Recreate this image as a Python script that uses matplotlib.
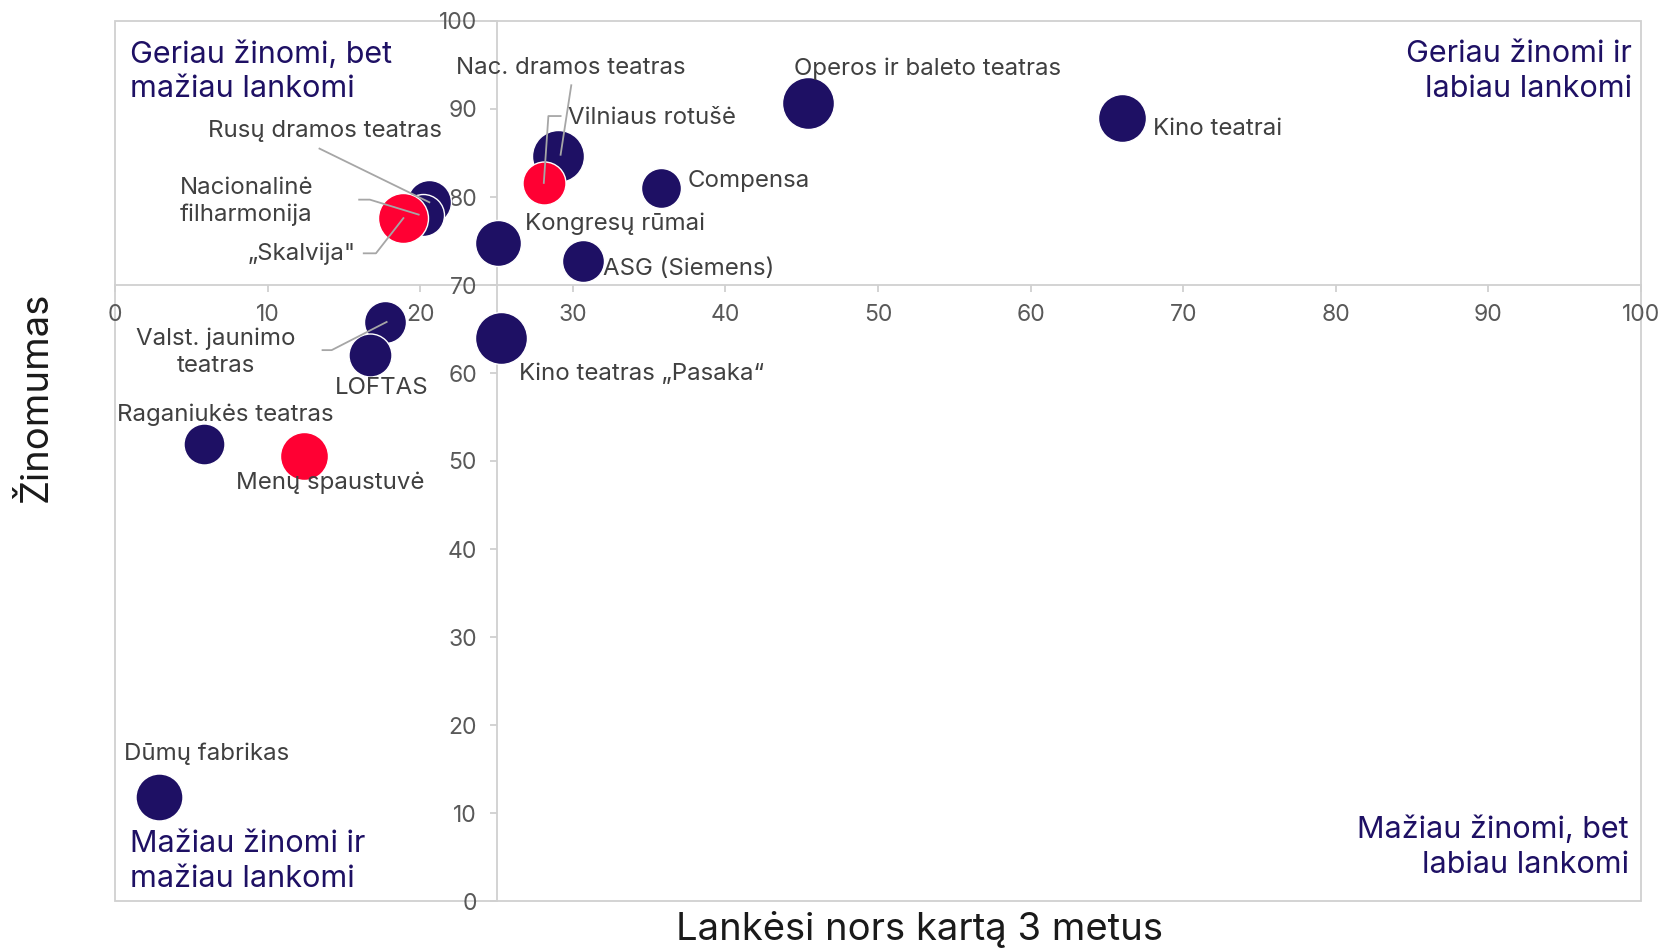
import matplotlib
matplotlib.use("Agg")
import matplotlib.pyplot as plt
from matplotlib.patches import Rectangle

plt.rcParams['font.family'] = ['Inter', 'DejaVu Sans']

# ---- data ----
names = ["Operos ir baleto teatras", "Kino teatrai", "Nac. dramos teatras", "Vilniaus rotušė",
         "Compensa", "Rusų dramos teatras", "Nacionalinė\nfilharmonija", "„Skalvija\"",
         "Kongresų rūmai", "ASG (Siemens)", "Valst. jaunimo\nteatras", "LOFTAS",
         "Kino teatras „Pasaka“", "Raganiukės teatras", "Menų spaustuvė", "Dūmų fabrikas"]
visited = [45.4, 66.0, 29.0, 28.1, 35.8, 20.6, 20.2, 18.9, 25.1, 30.7, 17.7, 16.7, 25.3, 5.8, 12.4, 2.9]
known = [90.7, 89.0, 84.7, 81.6, 81.0, 79.4, 78.0, 77.6, 74.8, 72.7, 65.8, 62.0, 64.0, 51.9, 50.6, 11.8]
bubble = [52, 48, 52, 43, 40, 44, 42, 50, 46, 42, 42, 43, 52, 41, 48, 47]
highlight = [False, False, False, True, False, False, False, True, False, False, False, False, False, False, True, False]

quadrants = ["Geriau žinomi, bet\nmažiau lankomi", "Geriau žinomi ir\nlabiau lankomi",
             "Mažiau žinomi ir\nmažiau lankomi", "Mažiau žinomi, bet\nlabiau lankomi"]
x_label = "Lankėsi nors kartą 3 metus"
y_label = "Žinomumas"
x_ticks = [0, 10, 20, 30, 40, 50, 60, 70, 80, 90, 100]
y_ticks = [0, 10, 20, 30, 40, 50, 60, 70, 80, 90, 100]

# ---- layout of labels (data coords) ----
label_pos = [(44.5, 94.6, 'left'), (68.0, 87.7, 'left'), (29.9, 94.7, 'center'), (29.7, 89.0, 'left'),
             (37.5, 81.8, 'left'), (21.4, 87.5, 'right'), (8.6, 79.5, 'center'), (15.8, 73.5, 'right'),
             (26.9, 77.0, 'left'), (32.0, 71.8, 'left'), (6.6, 62.4, 'center'), (17.5, 58.3, 'center'),
             (26.5, 59.9, 'left'), (0.1, 55.2, 'left'), (7.9, 47.5, 'left'), (0.6, 16.7, 'left')]
leaders = {
    2: [(29.9, 92.7), (29.2, 84.8)],
    3: [(29.2, 89.2), (28.4, 89.2), (28.1, 81.6)],
    5: [(13.4, 85.5), (20.6, 79.4)],
    6: [(16.0, 79.7), (16.7, 79.7), (19.9, 78.0)],
    7: [(16.3, 73.6), (17.1, 73.6), (18.9, 77.6)],
    10: [(13.6, 62.6), (14.2, 62.6), (17.8, 65.8)],
}

NAVY = "#1E1064"
RED = "#FF0033"
GRID = "#D0D0D0"
LBL = "#404040"

fig = plt.figure(figsize=(16.62, 9.48), dpi=100)
ax = fig.add_axes([115/1662, 1-901/948, (1641-115)/1662, (901-21)/948])
ax.set_xlim(0, 100)
ax.set_ylim(0, 100)

# frame
ax.add_patch(Rectangle((0, 0), 1, 1, transform=ax.transAxes, fill=False, edgecolor=GRID, lw=1.3, zorder=1, clip_on=False))
for s in ['top', 'right']:
    ax.spines[s].set_visible(False)
ax.spines['left'].set_position(('data', 25))
ax.spines['bottom'].set_position(('data', 70))
for s in ['left', 'bottom']:
    ax.spines[s].set_color(GRID)
    ax.spines[s].set_linewidth(1.3)
    ax.spines[s].set_zorder(1)
ax.set_xticks(x_ticks)
ax.set_yticks(y_ticks)
ax.tick_params(axis='both', colors=GRID, labelcolor="#595959", labelsize=16.5, length=5, width=1.3, direction='out')
ax.tick_params(axis='x', pad=9)
ax.tick_params(axis='y', pad=9)

# leader lines
for i, pts in leaders.items():
    xs = [p[0] for p in pts]
    ys = [p[1] for p in pts]
    ax.plot(xs, ys, color="#A6A6A6", lw=1.3, zorder=4)

# bubbles (drawn in order)
for i in range(len(names)):
    d_pt = bubble[i] / (100/72)
    ax.scatter([visited[i]], [known[i]], s=d_pt**2, color=RED if highlight[i] else NAVY,
               edgecolors='white', linewidths=1.0, zorder=3)

# labels
for i, (lx, ly, ha) in enumerate(label_pos):
    ax.text(lx, ly, names[i], ha=ha, va='center', fontsize=17.3, color=LBL, zorder=5, linespacing=1.28)

# quadrant labels
qkw = dict(fontsize=22, color=NAVY, linespacing=1.3, zorder=5)
ax.text(1.0, 97.8, quadrants[0], ha='left', va='top', **qkw)
ax.text(99.4, 97.8, quadrants[1], ha='right', va='top', multialignment='right', **qkw)
ax.text(1.0, 0.9, quadrants[2], ha='left', va='bottom', **qkw)
ax.text(99.2, 2.5, quadrants[3], ha='right', va='bottom', multialignment='right', **qkw)

fig.text(920/1662, 1-929/948, x_label, ha='center', va='center', fontsize=27.5, color="#1a1a1a")
fig.text(37/1662, 1-397/948, y_label, ha='center', va='center', rotation=90, fontsize=27.5, color="#1a1a1a")

fig.savefig("out.png", dpi=100)
